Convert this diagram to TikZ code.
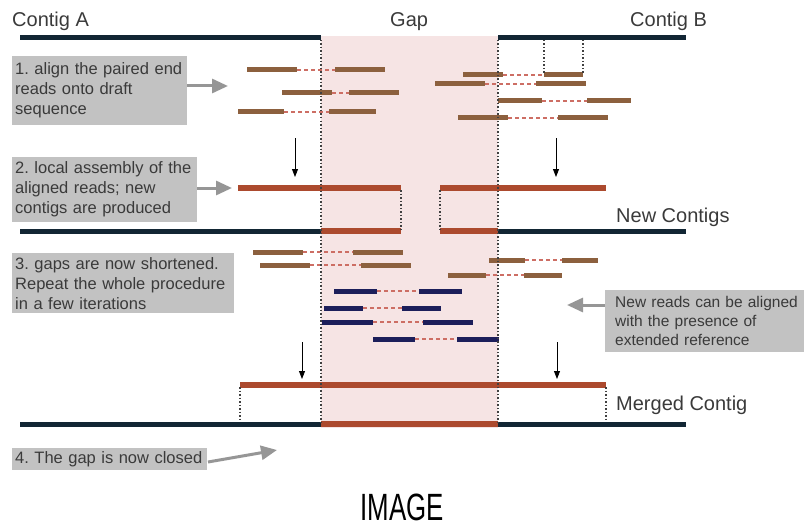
\documentclass[tikz,border=0pt]{standalone}
\usepackage{fontspec}
\setmainfont{Liberation Sans}
\usetikzlibrary{arrows.meta}
\definecolor{gappink}{RGB}{246,228,228}
\definecolor{contignavy}{RGB}{18,38,52}
\definecolor{readbrown}{RGB}{140,96,62}
\definecolor{rustc}{RGB}{172,74,46}
\definecolor{readnavy}{RGB}{28,30,90}
\definecolor{boxgray}{RGB}{194,194,194}
\definecolor{textgray}{RGB}{58,58,58}
\definecolor{arrowgray}{RGB}{150,150,150}
\definecolor{dashc}{RGB}{205,110,100}
\newcommand\readpair[6]{%
  \draw[pairdash] (#4,#2) -- (#5,#2);
  \draw[#1] (#3,#2) -- (#4,#2);
  \draw[#1] (#5,#2) -- (#6,#2);}
\frenchspacing
\begin{document}
\begin{tikzpicture}[x=1pt,y=-1pt,
  readb/.style={line width=5pt,color=readbrown},
  readn/.style={line width=5pt,color=readnavy},
  pairdash/.style={line width=1.2pt,dash pattern=on 4pt off 3pt,color=dashc},
  contig/.style={line width=5pt,color=contignavy},
  rustbar/.style={line width=6pt,color=rustc},
  guide/.style={line width=1.2pt,dash pattern=on 1.5pt off 2pt,color=black!75},
  note/.style={fill=boxgray,text=textgray,font=\fontsize{16.5}{20}\selectfont,
    align=left,anchor=north west,inner xsep=3pt,inner ysep=2pt},
  label/.style={text=textgray,font=\fontsize{20}{24}\selectfont,anchor=base west,inner sep=0pt},
  garrow/.style={-{Triangle[length=16pt,width=14pt]},line width=3pt,color=arrowgray},
  downarrow/.style={-{Triangle[length=8pt,width=6pt]},line width=0.9pt,color=black}]
\useasboundingbox (0,0) rectangle (804,527);
% gap region
\fill[gappink] (321,36) rectangle (498,428);
% labels
\node[label] (lA) at (12,27) {Contig A};
\node[label] (lgap) at (390,27) {Gap};
\node[label] (lB) at (630,27) {Contig B};
\node[label] (lnew) at (616,222) {New Contigs};
\node[label] (lmerged) at (616,410) {Merged Contig};
% top contigs
\draw[contig] (20,38) -- (321,38);
\draw[contig] (498,38) -- (686,38);
% step 1 reads
\readpair{readb}{70}{247}{297}{335}{385}
\readpair{readb}{93}{282}{332}{349}{399}
\readpair{readb}{112}{238}{284}{329}{376}
\readpair{readb}{75}{463}{503}{544}{583}
\readpair{readb}{84}{435}{485}{536}{586}
\readpair{readb}{101}{498}{542}{587}{631}
\readpair{readb}{118}{458}{508}{558}{608}
\draw[guide] (544,40) -- (544,75);
\draw[guide] (583,40) -- (583,75);
% notes
\node[note,text width=169pt,minimum height=69pt] (n1) at (12,56)
  {\mbox{1. align the paired end}\\reads onto draft\\sequence};
\node[note,text width=179pt,minimum height=65pt] (n2) at (12,157)
  {\mbox{2. local assembly of the}\\aligned reads; new\\contigs are produced};
\node[note,text width=216pt,minimum height=60pt] (n3) at (12,253)
  {\mbox{3. gaps are now shortened.}\\\mbox{Repeat the whole procedure}\\in a few iterations};
\node[note,text width=179pt,inner xsep=10pt,minimum height=62pt,
  font=\fontsize{15.5}{19}\selectfont] (n4) at (605,290)
  {\mbox{New reads can be aligned}\\with the presence of\\extended reference};
\node[note,text width=189pt,minimum height=22pt,inner ysep=0pt] (n5) at (12,448)
  {\mbox{4. The gap is now closed}};
% gray arrows
\coordinate (t1) at (228,86);
\coordinate (t2) at (232,188);
\coordinate (t4) at (567,305);
\coordinate (s5) at (208,462);
\coordinate (t5) at (277,450);
\draw[garrow] (t1 -| n1.east) -- (t1);
\draw[garrow] (t2 -| n2.east) -- (t2);
\draw[garrow] (t4 -| n4.west) -- (t4);
\draw[garrow] (s5) -- (t5);
% step 2 down arrows
\coordinate (d1a) at (295,138); \coordinate (d1b) at (295,177);
\coordinate (d2a) at (556,138); \coordinate (d2b) at (556,177);
\draw[downarrow] (d1a) -- (d1b);
\draw[downarrow] (d2a) -- (d2b);
% new contigs
\draw[rustbar] (238,188) -- (401,188);
\draw[rustbar] (440,188) -- (606,188);
\draw[contig] (20,231) -- (321,231);
\draw[rustbar] (321,231) -- (401,231);
\draw[rustbar] (440,231) -- (498,231);
\draw[contig] (498,231) -- (686,231);
\draw[guide] (401,190) -- (401,229);
\draw[guide] (440,190) -- (440,229);
% step 3 reads
\readpair{readb}{252}{253}{303}{353}{403}
\readpair{readb}{265}{260}{310}{361}{411}
\readpair{readb}{260}{489}{525}{562}{598}
\readpair{readb}{275}{448}{486}{524}{562}
\readpair{readn}{291}{334}{377}{419}{462}
\readpair{readn}{308}{324}{363}{402}{441}
\readpair{readn}{322}{322}{373}{423}{473}
\readpair{readn}{339}{373}{415}{457}{499}
% step 4 down arrows
\coordinate (d3a) at (302,342); \coordinate (d3b) at (302,379);
\coordinate (d4a) at (557,342); \coordinate (d4b) at (557,379);
\draw[downarrow] (d3a) -- (d3b);
\draw[downarrow] (d4a) -- (d4b);
% merged contig
\draw[rustbar] (240,385) -- (606,385);
\draw[contig] (20,424) -- (321,424);
\draw[rustbar] (321,424) -- (498,424);
\draw[contig] (498,424) -- (686,424);
\draw[guide] (240,387) -- (240,422);
\draw[guide] (606,387) -- (606,422);
% gap boundaries
\draw[guide] (321,40) -- (321,422);
\draw[guide] (498,40) -- (498,422);
% caption
\node[inner sep=0pt] (cap) at (402,507)
  {\scalebox{0.68}[1]{\fontsize{38}{38}\selectfont IMAGE}};
\end{tikzpicture}
\end{document}
